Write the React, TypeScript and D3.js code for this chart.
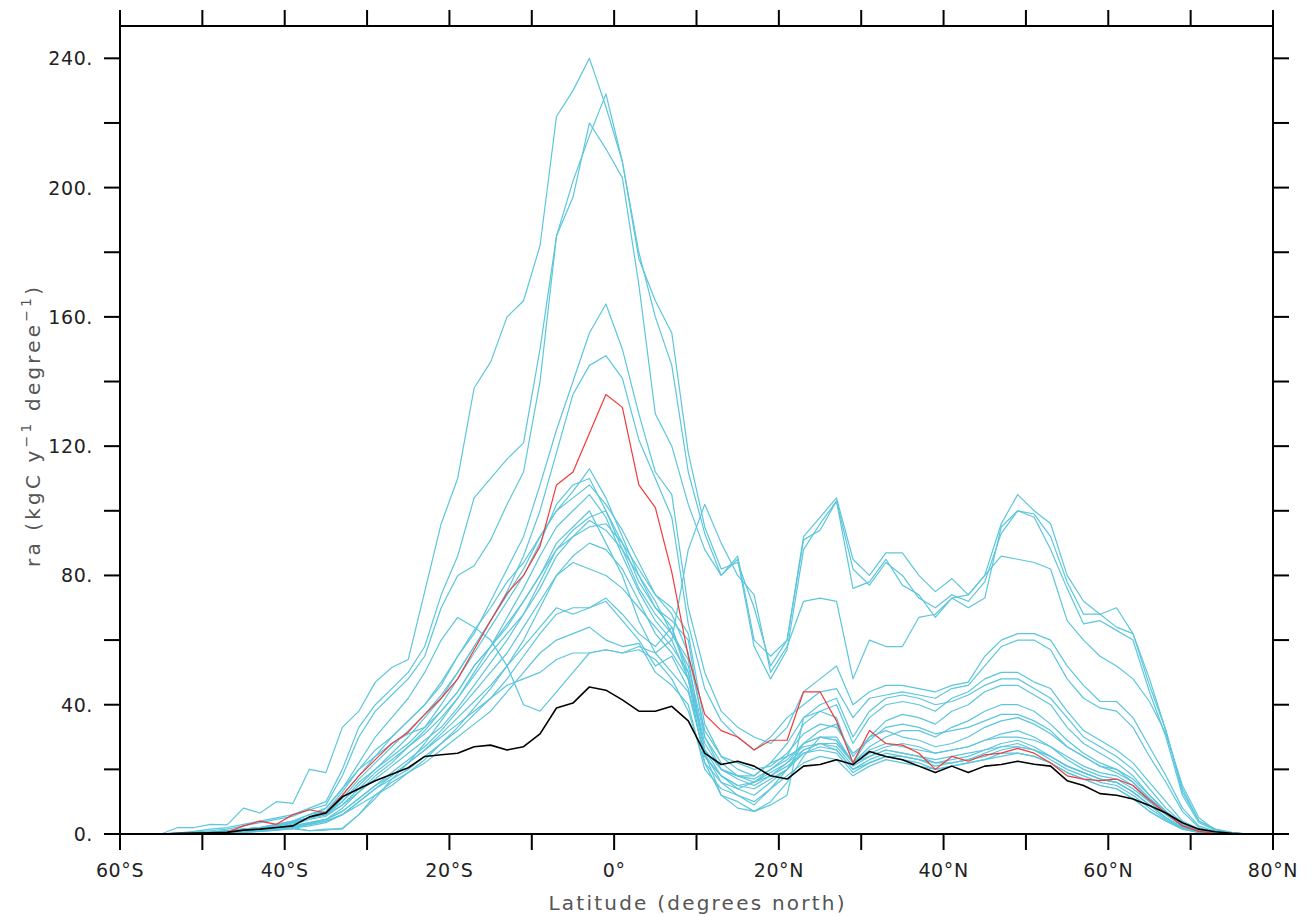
import * as d3 from 'd3'

// latitudes (degrees north), every 2 degrees
const lats = d3.range(-55, 78, 2)

// model ensemble members (cyan)
const members: number[][] = [
  [0, 2, 2, 3, 2.8, 8, 6.5, 10, 9.5, 20,
    19, 33, 38, 47, 51.5, 54, 75, 96, 110, 138,
    146, 160, 165, 182, 222, 230, 240, 225, 208, 178,
    165, 155, 118, 95, 82, 84, 70, 52, 60, 92,
    98, 104, 85, 80, 87, 87, 80, 75, 79, 74,
    80, 96, 105, 100, 96, 80, 72, 68, 70, 62,
    48, 32, 14, 4, 1.5, 0.5, 0],
  [0, 0.3, 0.8, 1.5, 2, 3, 4, 5, 6, 8,
    10, 20, 33, 40, 45, 50, 58, 74, 86, 104,
    110, 116, 121, 150, 185, 202, 216, 229, 208, 180,
    160, 145, 112, 93, 80, 85, 58, 48, 57, 88,
    96, 103, 82, 77, 84, 80, 73, 70, 74, 72,
    78, 93, 100, 99, 92, 78, 68, 68, 64, 62,
    46, 32, 13, 4, 1.5, 0.3, 0],
  [0, 0.3, 0.6, 1, 1.5, 2.5, 3.5, 4.5, 5.5, 7.5,
    9, 18, 30, 38, 43, 48, 55, 70, 80, 83,
    91, 102, 112, 140, 185, 197, 220, 212, 203, 170,
    130, 120, 102, 88, 80, 86, 60, 55, 60, 91,
    94, 103, 76, 78, 85, 77, 74, 67, 73, 70,
    73, 95, 100, 98, 88, 76, 65, 66, 63, 60,
    44, 30, 12, 3.5, 1.2, 0.3, 0],
  [0, 0, 0.3, 0.6, 1, 1.5, 2, 2.5, 3.5, 5,
    8, 14, 20, 24, 28, 31, 33, 38, 44, 52,
    58, 65, 72, 80, 90, 95, 100, 90, 80, 66,
    56, 60, 88, 102, 90, 80, 74, 50, 58, 72,
    73, 72, 48, 60, 58, 58, 67, 68, 73, 74,
    80, 86, 85, 84, 82, 66, 60, 55, 52, 48,
    41, 31, 15, 5, 1.2, 0.3, 0],
  [0, 0, 0.3, 0.6, 1, 1.5, 2, 3, 4, 5,
    7, 13, 20, 26, 30, 35, 40, 46, 55, 62,
    72, 82, 92, 108, 125, 140, 155, 164, 150, 130,
    112, 105, 70, 50, 38, 33, 30, 28, 33, 44,
    48, 52, 40, 44, 46, 46, 45, 44, 46, 47,
    55, 60, 62, 62, 60, 52, 46, 41, 41, 36,
    27, 18, 8, 2.5, 0.8, 0.2, 0],
  [0, 0, 0.2, 0.5, 0.8, 1.2, 1.8, 2.5, 3.5, 5,
    6, 11, 17, 22, 27, 32, 37, 43, 50, 58,
    66, 75, 86, 100, 118, 136, 145, 148, 141, 122,
    110, 98, 65, 45, 35, 30, 26, 30, 36, 40,
    44, 45, 36, 42, 43, 44, 43, 42, 45, 46,
    52, 58, 60, 60, 57, 48, 42, 39, 38, 33,
    24, 16, 7, 2, 0.6, 0.1, 0],
  [0, 0, 0.2, 0.5, 1, 1.5, 2, 3, 4, 6,
    7, 12, 18, 24, 30, 35, 40, 47, 55, 63,
    70, 78, 84, 92, 100, 106, 113, 104, 92, 80,
    70, 66, 60, 30, 20, 18, 16, 20, 24, 34,
    38, 40, 28, 36, 40, 41, 40, 38, 42, 44,
    48, 50, 50, 47, 45, 38, 32, 29, 26, 22,
    16, 10, 4, 1.5, 0.5, 0, 0],
  [0, 0, 0.2, 0.4, 0.7, 1, 1.5, 2, 3, 5,
    6, 10, 16, 20, 24, 28, 33, 40, 48, 56,
    64, 72, 80, 90, 102, 108, 110, 100, 88, 76,
    68, 62, 54, 25, 16, 12, 9, 14, 20, 28,
    32, 34, 24, 30, 35, 37, 36, 34, 38, 40,
    44, 46, 46, 43, 40, 33, 28, 25, 22, 18,
    12, 7, 3, 1, 0.3, 0, 0],
  [0, 0, 0, 0.2, 0.5, 0.8, 1.2, 1.5, 2, 1,
    1.5, 1.5, 6, 11, 17, 22, 28, 35, 42, 50,
    58, 67, 76, 86, 95, 100, 105, 98, 86, 75,
    66, 60, 48, 22, 12, 8, 7, 10, 16, 24,
    30, 30, 22, 27, 30, 32, 32, 30, 33, 35,
    38, 40, 40, 38, 34, 29, 25, 22, 20, 16,
    11, 6, 2.5, 0.8, 0.2, 0, 0],
  [0, 0, 0.2, 0.5, 0.8, 1.2, 1.8, 2.5, 3.5, 5,
    6, 9, 13, 18, 22, 27, 32, 38, 44, 52,
    58, 64, 72, 80, 88, 94, 98, 100, 90, 78,
    70, 64, 50, 25, 12, 10, 7, 9, 12, 36,
    38, 36, 22, 30, 32, 30, 29, 27, 28, 30,
    33, 35, 36, 34, 31, 27, 24, 21, 19, 16,
    11, 7, 3, 1, 0.3, 0, 0],
  [0, 0, 0.2, 0.4, 0.7, 1, 1.5, 2, 3, 4.5,
    5.5, 9, 14, 19, 23, 27, 31, 36, 42, 49,
    56, 62, 68, 76, 86, 92, 97, 94, 88, 80,
    72, 62, 52, 30, 22, 18, 17, 20, 23, 28,
    30, 29, 22, 26, 28, 27, 26, 25, 26, 27,
    29, 31, 32, 30, 27, 24, 21, 19, 18, 15,
    10, 6, 2.5, 0.8, 0.2, 0, 0],
  [0, 0, 0.1, 0.3, 0.6, 0.9, 1.3, 1.8, 2.5, 3.5,
    4.5, 7, 11, 15, 19, 23, 27, 32, 38, 44,
    50, 56, 64, 72, 80, 86, 90, 88, 82, 72,
    62, 56, 48, 26, 18, 14, 12, 16, 20, 26,
    28, 27, 21, 24, 26, 25, 24, 22, 23, 24,
    26, 28, 29, 27, 24, 21, 19, 17, 16, 13,
    9, 5, 2, 0.6, 0.2, 0, 0],
  [0, 0, 0.2, 0.5, 1, 1.5, 2, 3, 4, 6,
    8, 14, 22, 30, 36, 42, 50, 60, 67, 64,
    60, 52, 40, 38, 44, 50, 56, 57, 56, 57,
    54, 48, 38, 22, 16, 14, 16, 18, 22, 28,
    30, 29, 22, 25, 27, 28, 27, 25, 26, 27,
    29, 30, 30, 29, 27, 23, 20, 18, 17, 14,
    10, 6, 2.5, 0.8, 0.2, 0, 0],
  [0, 0, 0, 0.2, 0.4, 0.7, 1, 1.5, 2, 3,
    4, 6, 10, 14, 17, 20, 24, 28, 32, 37,
    42, 48, 55, 62, 68, 70, 70, 72, 66, 60,
    52, 55, 45, 24, 18, 15, 14, 17, 20, 25,
    27, 26, 20, 23, 25, 24, 23, 21, 22, 23,
    25, 27, 28, 26, 23, 20, 18, 16, 15, 12,
    8, 4.5, 1.8, 0.5, 0.1, 0, 0],
  [0, 0, 0, 0.1, 0.3, 0.5, 0.8, 1.2, 1.6, 1,
    1.2, 1.8, 6, 12, 16, 19, 22, 26, 30, 34,
    38, 44, 50, 56, 60, 62, 64, 60, 58, 59,
    50, 46, 40, 20, 14, 12, 10, 14, 18, 22,
    24, 23, 18, 21, 23, 22, 21, 20, 21, 22,
    23, 25, 25, 24, 22, 19, 17, 15, 14, 11,
    7, 4, 1.5, 0.5, 0.1, 0, 0],
  [0, 0, 0.1, 0.3, 0.5, 0.8, 1.2, 1.6, 2.2, 3.2,
    4.5, 7, 11, 15, 18, 22, 26, 31, 36, 41,
    46, 52, 58, 64, 70, 68, 70, 73, 68, 62,
    58, 64, 48, 26, 20, 18, 18, 22, 24, 27,
    28, 26, 20, 22, 24, 24, 23, 22, 22, 23,
    24, 26, 27, 26, 24, 21, 19, 17, 16, 13,
    9, 5, 2, 0.6, 0.1, 0, 0],
  [0, 0, 0.2, 0.4, 0.8, 1.2, 1.8, 2.5, 3.5, 5,
    6.5, 10, 15, 20, 25, 30, 36, 42, 50, 58,
    66, 74, 82, 92, 100, 104, 108, 102, 94, 84,
    74, 70, 62, 34, 24, 20, 18, 22, 28, 36,
    40, 42, 30, 38, 42, 43, 42, 40, 41, 43,
    46, 48, 48, 45, 42, 36, 30, 27, 24, 20,
    14, 8, 3.5, 1.2, 0.4, 0, 0],
  [0, 0, 0.1, 0.3, 0.6, 0.9, 1.3, 1.8, 2.5, 3.5,
    4.5, 8, 13, 17, 21, 25, 29, 33, 39, 46,
    53, 60, 68, 78, 88, 92, 95, 96, 90, 82,
    74, 68, 56, 32, 24, 22, 20, 21, 25, 31,
    34, 33, 25, 29, 33, 34, 33, 31, 32, 33,
    35, 37, 37, 35, 32, 27, 24, 21, 20, 17,
    12, 7, 3, 1, 0.3, 0, 0],
  [0, 0, 0.1, 0.2, 0.4, 0.7, 1, 1.4, 2, 3,
    4, 6, 9, 12, 15, 19, 23, 28, 33, 39,
    45, 52, 60, 70, 80, 84, 82, 80, 76, 70,
    64, 58, 50, 28, 20, 17, 15, 18, 21, 25,
    26, 25, 19, 22, 24, 23, 22, 20, 21, 22,
    23, 24, 25, 24, 22, 19, 17, 15, 14, 11,
    7, 4, 1.5, 0.5, 0.1, 0, 0],
  [0, 0, 0, 0.1, 0.3, 0.5, 0.8, 1.2, 1.8, 2.5,
    3.5, 6, 10, 14, 18, 22, 26, 30, 34, 38,
    42, 46, 48, 50, 54, 56, 56, 57, 56, 58,
    56, 50, 44, 24, 18, 15, 16, 19, 22, 26,
    28, 28, 22, 24, 26, 25, 24, 23, 24, 25,
    26, 27, 27, 26, 24, 21, 19, 17, 16, 13,
    9, 5, 2, 0.6, 0.1, 0, 0],
]

// ensemble mean (red)
const redSeries = [
  0, 0, 0, 0, 0.5, 2.5, 4, 3, 6, 7.5,
  6.5, 12, 18, 23, 28, 31.5, 37, 42, 48, 57,
  66, 74.5, 80, 89, 108, 112, 124, 136, 132, 108,
  101, 81, 55, 37, 32, 30, 26, 29, 29, 44,
  44, 35, 22, 32, 28, 27.5, 25, 20, 24, 22.5,
  24.5, 25, 26.5, 25, 22, 18, 17, 16.5, 17, 15,
  10.5, 6.5, 2.5, 0.8, 0.2, 0, 0,
]

// observations (black)
const blackSeries = [
  0, 0.2, 0.3, 0.4, 0.5, 1.2, 1.5, 2, 2.5, 5.3,
  6.5, 11.5, 14, 16.5, 18.5, 20.5, 24, 24.5, 25, 27,
  27.5, 26, 27, 31, 39, 40.5, 45.5, 44.5, 41.5, 38,
  38, 39.5, 35, 25, 21.5, 22.5, 21, 18, 17, 21,
  21.5, 23, 21.5, 25.5, 24, 23, 21, 19, 21, 19,
  21, 21.5, 22.5, 21.6, 21, 16.5, 15, 12.5, 12, 10.8,
  8.8, 6.5, 3.5, 1.5, 0.7, 0.2, 0,
]

const xMajor = [-60, -40, -20, 0, 20, 40, 60, 80]
const xLabels = ['60°S', '40°S', '20°S', '0°', '20°N', '40°N', '60°N', '80°N']
const xMinor = [-50, -30, -10, 10, 30, 50, 70]
const yMajor = [0, 40, 80, 120, 160, 200, 240]
const yLabels = ['0.', '40.', '80.', '120.', '160.', '200.', '240.']
const yMinor = [20, 60, 100, 140, 180, 220]

const W = 1314
const H = 917
const left = 120
const right = 1273
const top = 26
const bottom = 834
const tickLen = 16
const font = '"DejaVu Sans", sans-serif'

const App = () => {
  const x = d3.scaleLinear([-60, 80], [left, right])
  const y = d3.scaleLinear([0, 250], [bottom, top])
  const line = d3.line<number>()
    .x((_, i) => x(lats[i]))
    .y(d => y(d))

  const xTicks = [...xMajor, ...xMinor]
  const yTicks = [...yMajor, ...yMinor]

  return (
    <svg width={W} height={H} style={{ position: 'absolute', left: 0, top: 0, background: '#fff' }}>
      <g fill="none" strokeLinejoin="round">
        {members.map((m, i) => (
          <path key={i} d={line(m) ?? ''} stroke="#5cc6dc" strokeWidth={1.2} />
        ))}
        <path d={line(redSeries) ?? ''} stroke="#f23a3a" strokeWidth={1.2} />
        <path d={line(blackSeries) ?? ''} stroke="#000" strokeWidth={1.6} />
      </g>

      <g stroke="#000" strokeWidth={2}>
        {xTicks.map(t => (
          <g key={'x' + t}>
            <line x1={x(t)} x2={x(t)} y1={bottom} y2={bottom + tickLen} />
            <line x1={x(t)} x2={x(t)} y1={top} y2={top - tickLen} />
          </g>
        ))}
        {yTicks.map(t => (
          <g key={'y' + t}>
            <line x1={left} x2={left - tickLen} y1={y(t)} y2={y(t)} />
            <line x1={right} x2={right + tickLen} y1={y(t)} y2={y(t)} />
          </g>
        ))}
        <rect x={left} y={top} width={right - left} height={bottom - top} fill="none" />
      </g>

      <g fontFamily={font} fontSize={19} fill="#222" letterSpacing={0.6}>
        {xMajor.map((t, i) => (
          <text key={t} x={x(t)} y={bottom + 43} textAnchor="middle">{xLabels[i]}</text>
        ))}
        {yMajor.map((t, i) => (
          <text key={t} x={left - 27} y={y(t)} textAnchor="end" dominantBaseline="central">{yLabels[i]}</text>
        ))}
      </g>

      <text
        x={(left + right) / 2}
        y={910}
        textAnchor="middle"
        fontFamily={font}
        fontSize={20}
        fill="#555"
        textLength={296}
        lengthAdjust="spacing"
      >
        Latitude (degrees north)
      </text>
      <text
        transform={`translate(40,${(top + bottom) / 2 - 3}) rotate(-90)`}
        textAnchor="middle"
        fontFamily={font}
        fontSize={20}
        fill="#555"
        textLength={280}
        lengthAdjust="spacing"
      >
        ra (kgC y<tspan dy={-9} fontSize={14}>−1</tspan><tspan dy={9}> degree</tspan><tspan dy={-9} fontSize={14}>−1</tspan><tspan dy={9}>)</tspan>
      </text>
    </svg>
  )
}

export default App
